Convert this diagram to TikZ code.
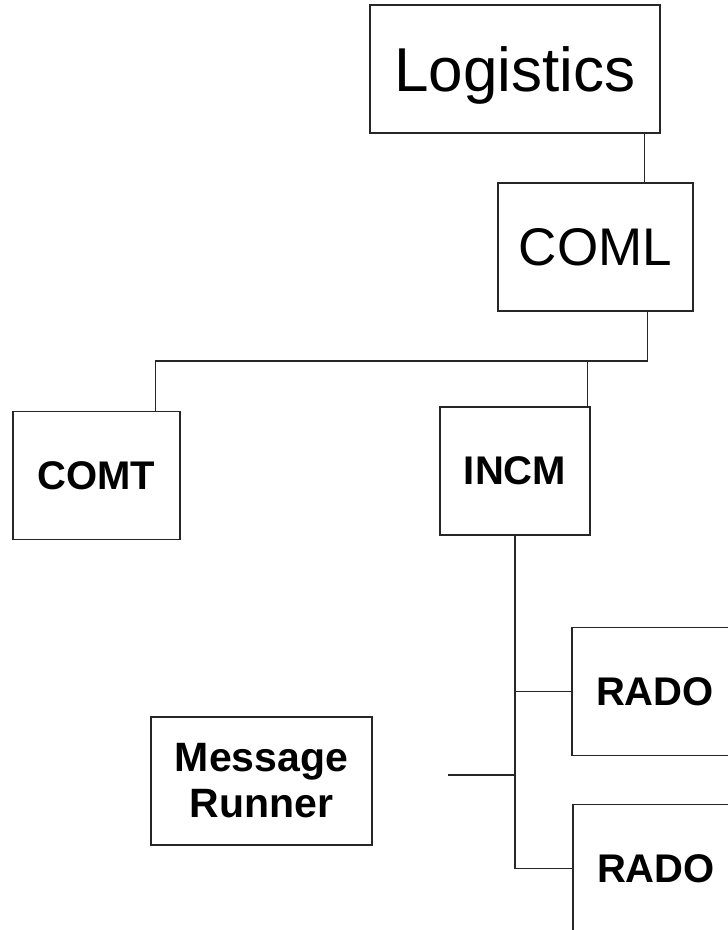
\documentclass[tikz,border=0pt]{standalone}
\usepackage{fontspec}
\setmainfont{Liberation Sans}
\usetikzlibrary{positioning,calc}
\tikzset{
  unit/.style={rectangle,draw=black!85,line width=1.3pt,inner sep=0pt,align=center,text=black},
  topunit/.style={unit,font=\fontsize{62}{70}\selectfont,text depth=0pt},
  midunit/.style={unit,font=\fontsize{53}{60}\selectfont},
  subunit/.style={unit,font=\bfseries\fontsize{40}{45}\selectfont,minimum height=128pt},
  link/.style={draw=black!85,line width=1.2pt},
}

\begin{document}
\begin{tikzpicture}[x=1pt,y=-1pt]
\useasboundingbox (0,0) rectangle (728,930);
\clip (0,0) rectangle (728,930);
% command levels
\node[topunit,minimum width=290pt,minimum height=128pt] (log) at (515,69) {Logistics};
\node[midunit,minimum width=195pt,minimum height=128pt] (coml) at (595.5,247) {COML};
\node[subunit,minimum width=167pt] (comt) at (96.5,475.5) {COMT};
\node[subunit,minimum width=150pt] (incm) at (515,471) {INCM};
% attached elements
\node[subunit,minimum width=166pt] (radoA) at (655,691.5) {RADO};
\node[subunit,minimum width=166pt] (radoB) at (656,868.5) {RADO};
\node[subunit,minimum width=221pt,font=\bfseries\fontsize{41}{46}\selectfont] (runner) at (261.5,781) {Message\\Runner};
% connectors
\coordinate (bus) at (0,361);
\coordinate (stub) at (448,775);
\draw[link] ([xshift=-16pt]log.south east) -- ([xshift=-16pt]log.south east |- coml.north);
\draw[link] ([xshift=-46pt]coml.south east) -- ([xshift=-46pt]coml.south east |- bus)
  -- ([xshift=-25pt]comt.north east |- bus) -- ([xshift=-25pt]comt.north east);
\draw[link] ([xshift=-3pt]incm.north east) -- ([xshift=-3pt]incm.north east |- bus);
\draw[link] (incm.south) -- (incm.south |- radoB.west);
\draw[link] (incm.south |- radoA.west) -- (radoA.west);
\draw[link] (incm.south |- radoB.west) -- (radoB.west);
\draw[link] (stub) -- (stub -| incm.south);
\end{tikzpicture}
\end{document}
